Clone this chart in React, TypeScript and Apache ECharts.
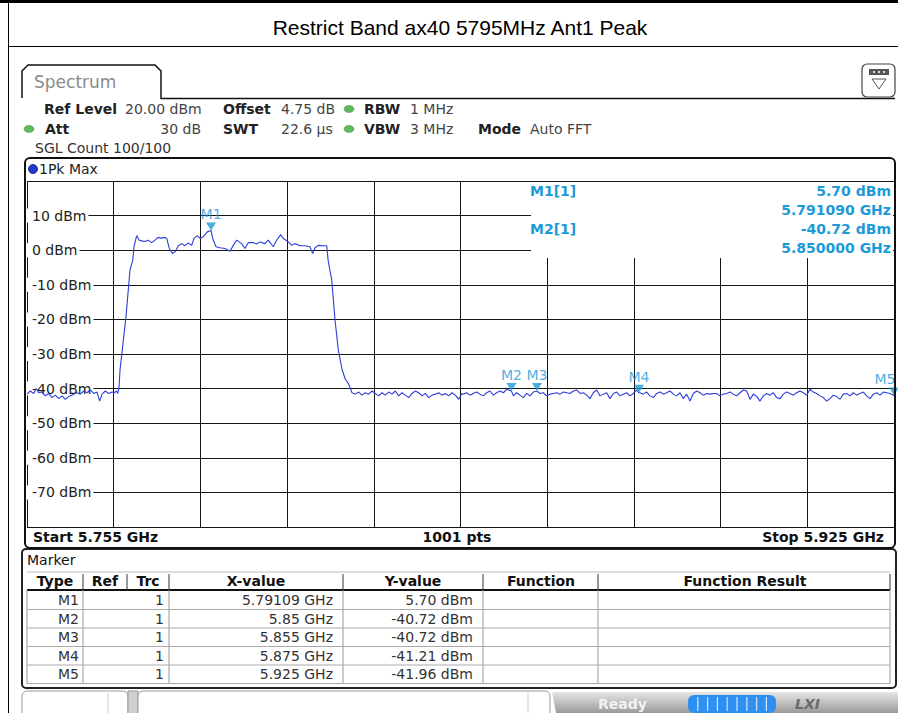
import React, { useEffect, useRef } from "react";
import * as echarts from "echarts";

// ---- data ----
const TITLE = "Restrict Band ax40 5795MHz Ant1 Peak";
const START_MHZ = 5755;
const STOP_MHZ = 5925;
const yTickLevels = [10, 0, -10, -20, -30, -40, -50, -60, -70];

// trace: frequency offset from start (MHz) and level (dBm)
const freqOffsetMHz = [
  0, 0.65, 1.31, 1.83, 2.29, 2.94, 3.59, 4.25, 4.9, 5.56, 6.21, 6.86, 7.52, 8.17, 9.15, 9.8, 10.46, 11.11, 11.76, 12.42,
  13.07, 13.73, 14.25, 14.71, 15.36, 16.01, 16.67, 17.12, 17.52, 17.78, 18.04,
  18.24, 19.41, 20.2, 20.73, 20.98, 21.51,
  22.02, 22.49, 22.94, 23.47, 23.78, 24.45, 25.1, 25.69, 26.27, 27.06, 27.39, 27.9, 28.57, 29.02, 29.67, 30.33, 30.98,
  31.63, 32.29, 32.75, 33.39, 33.92, 34.57, 35.35, 36.09, 36.41, 37.06, 37.84, 38.82, 39.8, 40.45, 41.12, 42.1, 42.75,
  43.39, 44.37, 45.0, 45.69, 46.67, 47.31, 48.29, 48.96, 49.75, 50.26, 51.24, 51.9, 52.55, 53.53, 54.51, 55.49, 56.02,
  56.47, 57.12, 58.1, 58.77,
  59.08, 59.75, 60.39, 61.04, 61.76, 62.41, 63.08, 63.73,
  64.38, 65.03, 65.69, 66.34, 66.99, 67.65, 68.3, 68.95, 69.61, 70.26, 70.92, 71.57, 72.22, 72.88, 73.53, 74.18, 74.84,
  75.49, 76.14, 76.8, 77.45, 78.11, 78.76, 79.41, 80.07, 80.72, 81.37, 82.03, 82.68, 83.33, 83.99, 84.64, 85.29,
  85.55, 86.21, 86.86, 87.51, 88.17, 88.82, 89.48, 90.13, 90.78, 91.44, 92.09, 92.74, 93.4, 94.05, 95.0, 95.36, 96.01,
  96.66, 97.32, 97.97, 98.63, 99.28, 100.0, 100.59, 101.24, 101.89, 102.55, 103.2, 103.85, 104.51, 105.16, 105.82,
  106.47, 107.12, 107.78, 108.43, 109.08, 109.74, 110.39, 111.04, 111.7, 112.35, 113.0, 113.66, 114.31, 114.97, 115.62,
  116.27, 116.93, 117.58, 118.23, 118.89, 119.54, 120.0, 120.19, 120.85, 121.5, 122.16, 122.81, 123.46, 124.12, 124.77,
  125.42, 126.08, 126.73, 127.38, 128.04, 128.69, 129.34, 130.0, 130.65, 131.31, 131.96, 132.61, 133.27, 133.92,
  134.57, 135.23, 135.88, 136.53, 137.19, 137.84, 138.49, 139.15, 139.8, 140.46, 141.11, 141.76, 142.42, 143.07,
  143.72, 144.38, 145.03, 145.68, 146.34, 146.99, 147.65, 148.3, 148.95, 149.61, 150.26, 150.91, 151.57, 152.22,
  152.87, 153.53, 154.18, 154.84, 155.49, 156.14, 156.8, 157.45, 158.1, 158.76, 159.41, 160.06, 160.72, 161.37,
  162.02, 162.68, 163.33, 163.99, 164.64, 165.29, 165.95, 166.6, 167.25, 167.91, 168.56, 169.21, 170.0,
];
const levelDbm = [
  -41.6, -40.7, -41.4, -40.0, -41.2, -41.0, -42.1, -41.4, -42.6, -41.9, -42.9, -42.1, -43.1, -42.3, -41.6, -41.2, -41.6,
  -40.7, -41.2, -40.4, -41.4, -41.0, -43.6, -41.6, -40.7, -41.4, -41.0, -41.2, -40.7, -41.4, -39.7,
  -34.6, -19.2, -5.6, -3.0, 1.0, 4.2,
  2.9, 2.7, 2.5, 2.7, 2.9, 2.2, 2.9, 3.7, 3.5, 3.7, 3.4, 0.5, -1.0, -0.5, 1.3, 1.9, 1.3,
  2.1, 1.4, 3.4, 4.2, 3.4, 3.9, 5.3, 5.7, 3.4, 1.0, 0.7, 0.5, -0.3, 1.4, 2.9, 1.9, 0.5,
  2.2, 2.2, 1.8, 2.4, 1.9, 2.9, 1.0, 2.9, 4.5, 3.4, 2.4, 1.4, 1.9, 1.3, 1.3, 1.0, -1.0,
  0.7, 1.4, 1.3, 1.3,
  -3.4, -8.5, -20.1, -28.8, -34.4, -37.3, -38.7, -41.2,
  -41.6, -41.0, -41.9, -41.2, -41.6, -40.7, -41.4, -42.1, -41.2, -41.9, -41.0, -41.6, -40.7, -42.1, -41.2, -41.9, -42.6,
  -41.4, -40.7, -41.2, -42.1, -41.4, -42.6, -41.9, -41.6, -41.2, -41.9, -41.4, -42.1, -41.2, -41.9, -43.1, -41.4,
  -41.6, -41.2, -41.9, -41.4, -41.0, -41.6, -42.1, -41.2, -40.7, -41.9, -41.2, -40.7, -41.2, -40.2, -40.72, -42.1, -41.2,
  -41.9, -42.6, -41.4, -42.1, -41.0, -40.72, -41.4, -41.2, -42.1, -41.6, -41.4, -41.2, -41.6, -41.0, -41.2,
  -41.4, -40.7, -40.4, -41.4, -41.2, -41.9, -42.9, -41.2, -40.4, -42.1, -41.6, -41.2, -42.9, -41.4, -41.0,
  -42.1, -41.6, -41.2, -42.1, -41.4, -40.4, -41.21, -41.2, -41.6, -41.0, -42.1, -42.6, -41.4, -41.0, -41.6,
  -41.2, -40.7, -41.6, -42.1, -41.2, -42.9, -41.6, -43.6, -41.4, -40.7, -41.2, -41.9, -41.4, -41.6,
  -41.4, -41.4, -42.1, -41.6, -41.4, -41.0, -41.6, -42.1, -41.2, -40.4, -40.7, -43.1, -41.6, -42.3,
  -43.6, -42.1, -41.4, -41.9, -41.2, -42.6, -42.9, -41.6, -41.0, -41.4, -41.9, -41.2, -40.7, -41.2,
  -41.9, -40.2, -41.0, -41.4, -42.1, -42.6, -43.6, -42.9, -41.9, -42.3, -43.1, -41.6, -41.4, -42.1,
  -41.2, -41.9, -41.4, -41.0, -42.1, -42.9, -41.6, -41.2, -41.9, -41.0, -41.2, -41.4, -41.96,
];

const markerNames = ["M1", "M2", "M3", "M4", "M5"];
const markerFreqGHz = [5.79109, 5.85, 5.855, 5.875, 5.925];
const markerLevelDbm = [5.7, -40.72, -40.72, -41.21, -41.96];
const markerTrace = [1, 1, 1, 1, 1];

const infoRow1 = [
  ["Ref Level", "20.00 dBm"],
  ["Offset", "4.75 dB"],
  ["RBW", "1 MHz"],
];
const infoRow2 = [
  ["Att", "30 dB"],
  ["SWT", "22.6 µs"],
  ["VBW", "3 MHz"],
  ["Mode", "Auto FFT"],
];
const tableHeaders = ["Type", "Ref", "Trc", "X-value", "Y-value", "Function", "Function Result"];

const UI_FONT = "DejaVu Sans";
const MARK_BLUE = "#1c9ad8";
const TRACE_BLUE = "#2e3fd8";

function txt(text: string, x: number, y: number, o: any = {}) {
  return {
    type: "text",
    x,
    y,
    z: o.z ?? 20,
    silent: true,
    style: {
      text,
      fill: o.color || "#222",
      fontSize: o.size || 14,
      fontFamily: o.family || UI_FONT,
      fontWeight: o.weight || "normal",
      fontStyle: o.style || "normal",
      textAlign: o.align || "left",
      textVerticalAlign: "middle",
    },
  };
}
function ln(x1: number, y1: number, x2: number, y2: number, color = "#111", w = 1, z = 20) {
  return { type: "line", z, silent: true, shape: { x1, y1, x2, y2 }, style: { stroke: color, lineWidth: w } };
}
function rc(x: number, y: number, w: number, h: number, o: any = {}) {
  return {
    type: "rect",
    z: o.z ?? 20,
    silent: true,
    shape: { x, y, width: w, height: h, r: o.r ?? 0 },
    style: { fill: o.fill ?? "none", stroke: o.stroke ?? "none", lineWidth: o.lw ?? 1 },
  };
}
function dot(cx: number, cy: number, color: string) {
  return {
    type: "ellipse",
    z: 20,
    silent: true,
    shape: { cx, cy, rx: 5, ry: 3.5 },
    style: { fill: color, stroke: "#3c8a3c", lineWidth: 0.5 },
  };
}

export default function App() {
  const ref = useRef<HTMLDivElement>(null);

  useEffect(() => {
    if (!ref.current) return;
    const chart = echarts.init(ref.current, undefined, { renderer: "svg" });

    const trace = freqOffsetMHz.map((f, i) => [f, levelDbm[i]]);
    const last = markerNames.length - 1;
    const markers = markerNames.map((n, i) => ({
      name: n,
      value: [markerFreqGHz[i] * 1000 - START_MHZ, markerLevelDbm[i]],
      label: i === last ? { offset: [-9, 0] } : undefined,
    }));

    const g: any[] = [];
    // outer page frame / title
    g.push(rc(0, 0, 898, 3, { fill: "#000", z: 30 }));
    g.push(ln(8.5, 0, 8.5, 713, "#000", 1));
    g.push(ln(8, 46.5, 898, 46.5, "#000", 1));
    g.push(txt(TITLE, 460, 27, { family: "Liberation Sans", size: 21, align: "center", color: "#000" }));

    // spectrum tab
    g.push({
      type: "polyline",
      z: 20,
      silent: true,
      shape: { points: [[22, 98], [22, 71], [28, 65], [155, 65], [161, 71], [161, 98.5], [895, 98.5]] },
      style: { stroke: "#111", lineWidth: 1.5, fill: "none" },
    });
    g.push(txt("Spectrum", 34, 82, { size: 17, color: "#8a8a8a" }));
    // top-right button
    g.push(rc(862, 64, 33, 33, { r: 5, stroke: "#444", fill: "#fff", lw: 1.2 }));
    g.push(rc(869, 69, 20, 6, { fill: "#555" }));
    g.push(ln(873, 72, 875, 72, "#ddd", 2));
    g.push(ln(878, 72, 880, 72, "#ddd", 2));
    g.push(ln(883, 72, 885, 72, "#ddd", 2));
    g.push({
      type: "polygon",
      z: 20,
      silent: true,
      shape: { points: [[872, 79], [886, 79], [879, 89]] },
      style: { fill: "none", stroke: "#555", lineWidth: 1 },
    });

    // info rows
    const r1y = 109, r2y = 129, r3y = 148;
    g.push(txt(infoRow1[0][0], 44, r1y, { weight: "bold" }));
    g.push(txt(infoRow1[0][1], 125, r1y, { color: "#444" }));
    g.push(txt(infoRow1[1][0], 223, r1y, { weight: "bold" }));
    g.push(txt(infoRow1[1][1], 281, r1y, { color: "#444" }));
    g.push(dot(349, r1y, "#5dbb5d"));
    g.push(txt(infoRow1[2][0], 364, r1y, { weight: "bold" }));
    g.push(txt(infoRow1[2][1], 410, r1y, { color: "#444" }));

    g.push(dot(29, r2y, "#5dbb5d"));
    g.push(txt(infoRow2[0][0], 45, r2y, { weight: "bold" }));
    g.push(txt(infoRow2[0][1], 201, r2y, { color: "#444", align: "right" }));
    g.push(txt(infoRow2[1][0], 223, r2y, { weight: "bold" }));
    g.push(txt(infoRow2[1][1], 281, r2y, { color: "#444" }));
    g.push(dot(349, r2y, "#5dbb5d"));
    g.push(txt(infoRow2[2][0], 364, r2y, { weight: "bold" }));
    g.push(txt(infoRow2[2][1], 410, r2y, { color: "#444" }));
    g.push(txt(infoRow2[3][0], 478, r2y, { weight: "bold" }));
    g.push(txt(infoRow2[3][1], 530, r2y, { color: "#444" }));
    g.push(txt("SGL Count 100/100", 35, r3y, { color: "#333" }));

    // plot frame
    g.push(rc(25, 158, 870, 390, { r: 5, stroke: "#111", lw: 2, z: 40 }));
    g.push({
      type: "circle",
      z: 20,
      silent: true,
      shape: { cx: 33, cy: 169, r: 4.5 },
      style: { fill: "#2436d0", stroke: "#101860", lineWidth: 0.8 },
    });
    g.push(txt("1Pk Max", 39, 169, { color: "#222" }));

    // marker readout box (covers grid in the top-right)
    g.push(rc(531, 182, 362, 76, { fill: "#fff", z: 1 }));
    const m1 = 0, m2 = 1;
    g.push(txt(`${markerNames[m1]}[${markerTrace[m1]}]`, 530, 191, { weight: "bold", color: MARK_BLUE }));
    g.push(txt(`${markerLevelDbm[m1].toFixed(2)} dBm`, 891, 191, { weight: "bold", color: MARK_BLUE, align: "right" }));
    g.push(txt(`${markerFreqGHz[m1].toFixed(6)} GHz`, 891, 210, { weight: "bold", color: MARK_BLUE, align: "right" }));
    g.push(txt(`${markerNames[m2]}[${markerTrace[m2]}]`, 530, 229, { weight: "bold", color: MARK_BLUE }));
    g.push(txt(`${markerLevelDbm[m2].toFixed(2)} dBm`, 891, 229, { weight: "bold", color: MARK_BLUE, align: "right" }));
    g.push(txt(`${markerFreqGHz[m2].toFixed(6)} GHz`, 891, 248, { weight: "bold", color: MARK_BLUE, align: "right" }));

    // bottom row of plot
    g.push(txt(`Start ${(START_MHZ / 1000).toFixed(3)} GHz`, 33, 537, { weight: "bold", color: "#111" }));
    g.push(txt(`${1001} pts`, 457, 537, { weight: "bold", color: "#111", align: "center" }));
    g.push(txt(`Stop ${(STOP_MHZ / 1000).toFixed(3)} GHz`, 884, 537, { weight: "bold", color: "#111", align: "right" }));

    // marker table panel
    g.push(rc(22, 549, 874, 139, { r: 4, stroke: "#222", lw: 2, fill: "none" }));
    g.push(txt("Marker", 27, 560, { color: "#111" }));
    const colX = [27, 83, 127, 169, 343, 483, 598, 890];
    const headY0 = 572, headY1 = 590;
    g.push(ln(27, headY0, 890, headY0, "#bbb", 1));
    g.push(ln(27, headY1, 890, headY1, "#111", 2));
    for (let i = 1; i < colX.length; i++) g.push(ln(colX[i], headY0 + 2, colX[i], headY1, "#333", 1));
    const headCenters = [55, 105, 148, 256, 413, 541, 745];
    tableHeaders.forEach((h, i) => g.push(txt(h, headCenters[i], 581, { weight: "bold", align: "center", color: "#111" })));
    const rowH = 18.5;
    const bodyTop = 591;
    const bodyBottom = bodyTop + rowH * markerNames.length;
    g.push(ln(27, headY1, 27, bodyBottom, "#999", 1));
    [83, 169, 343, 483, 598, 890].forEach((x) => g.push(ln(x, headY1, x, bodyBottom, "#999", 1)));
    markerNames.forEach((n, i) => {
      const yB = bodyTop + rowH * (i + 1);
      g.push(ln(27, yB, 890, yB, "#aaa", 1));
      const yc = bodyTop + rowH * i + rowH / 2;
      g.push(txt(n, 79, yc, { align: "right", color: "#333" }));
      g.push(txt(String(markerTrace[i]), 164, yc, { align: "right", color: "#333" }));
      g.push(txt(`${markerFreqGHz[i]} GHz`, 333, yc, { align: "right", color: "#333" }));
      g.push(txt(`${markerLevelDbm[i].toFixed(2)} dBm`, 473, yc, { align: "right", color: "#333" }));
    });

    // status bar
    g.push(rc(22, 691, 106, 30, { r: 5, stroke: "#999", fill: "#fff" }));
    g.push(ln(108, 693, 108, 713, "#ccc", 1));
    g.push(rc(128, 691, 10, 30, { fill: "#d0d0d0", stroke: "#999" }));
    g.push(rc(138, 691, 412, 30, { r: 5, stroke: "#999", fill: "#fff" }));
    g.push(ln(528, 693, 528, 713, "#ccc", 1));
    g.push({
      type: "polygon",
      z: 20,
      silent: true,
      shape: { points: [[552, 692], [898, 692], [898, 713], [556, 713]] },
      style: {
        fill: new echarts.graphic.LinearGradient(0, 0, 0, 1, [
          { offset: 0, color: "#e6e6e6" },
          { offset: 1, color: "#9a9a9a" },
        ]),
      },
    });
    g.push(txt("Ready", 598, 704, { weight: "bold", color: "#f2f2f2" }));
    g.push(rc(688, 695, 88, 18, { r: 6, fill: "#2f8ff0" }));
    for (let i = 1; i < 9; i++) g.push(ln(688 + i * 9.8, 697, 688 + i * 9.8, 711, "#cfe4ff", 1.2));
    g.push(txt("LXI", 795, 704, { weight: "bold", style: "italic", color: "#6a6a6a", family: "DejaVu Sans" }));

    chart.setOption({
      animation: false,
      backgroundColor: "#fff",
      grid: { left: 27, top: 181, width: 867, height: 346, containLabel: false },
      xAxis: {
        type: "value",
        min: 0,
        max: STOP_MHZ - START_MHZ,
        interval: 17,
        axisLine: { show: false },
        axisTick: { show: false },
        axisLabel: { show: false },
        splitLine: { show: true, lineStyle: { color: "#151515", width: 1 } },
      },
      yAxis: {
        type: "value",
        min: -80,
        max: 20,
        interval: 10,
        axisLine: { show: false },
        axisTick: { show: false },
        splitLine: { show: true, lineStyle: { color: "#151515", width: 1 } },
        axisLabel: {
          inside: true,
          margin: 0,
          color: "#222",
          fontSize: 14,
          fontFamily: UI_FONT,
          backgroundColor: "#fff",
          padding: [0, 2, 0, 5],
          formatter: (v: number) => (yTickLevels.includes(v) ? `${v} dBm` : ""),
        },
      },
      graphic: { elements: g },
      series: [
        {
          type: "line",
          data: trace,
          showSymbol: false,
          symbol: "none",
          z: 3,
          lineStyle: { color: TRACE_BLUE, width: 1.1 },
          silent: true,
        },
        {
          type: "scatter",
          data: markers,
          z: 4,
          symbol: "path://M0,0L10,0L5,9Z",
          symbolSize: [10, 8],
          symbolOffset: [0, -4],
          itemStyle: { color: MARK_BLUE },
          label: {
            show: true,
            position: "top",
            distance: 1,
            formatter: (p: any) => p.name,
            color: MARK_BLUE,
            fontSize: 14,
            fontFamily: UI_FONT,
          },
          silent: true,
        },
      ],
    });

    return () => chart.dispose();
  }, []);

  return (
    <div
      ref={ref}
      style={{ position: "fixed", left: 0, top: 0, width: 898, height: 713, background: "#fff" }}
    />
  );
}
